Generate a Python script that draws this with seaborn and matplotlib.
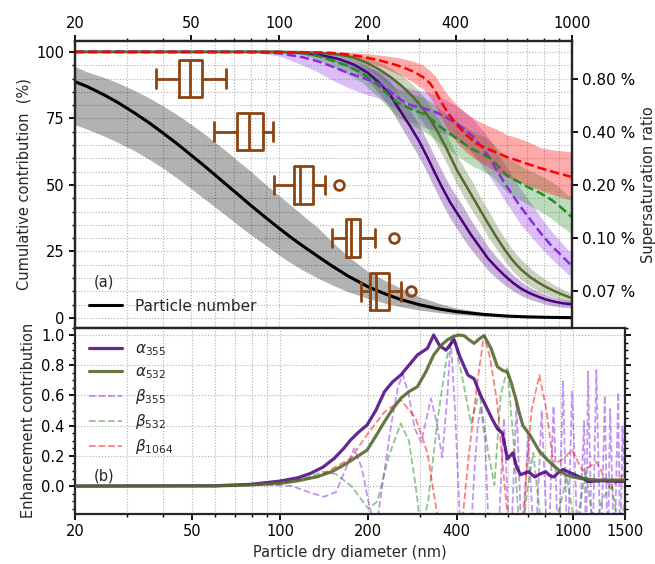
import numpy as np
import pandas as pd
import matplotlib
matplotlib.use('Agg')
import matplotlib.pyplot as plt
import seaborn as sns
from matplotlib.ticker import FixedLocator, FixedFormatter, LogLocator, NullFormatter, MultipleLocator, FormatStrFormatter

# ---------------- data: panel (a) ----------------
# particle number cumulative contribution (%)
d_num = [20, 22, 25, 28, 32, 36, 40, 45, 50, 55, 60, 66, 72, 80, 90, 100, 110, 120, 135, 150, 170, 200, 230, 260, 300, 350, 400, 500, 600, 700, 850, 1000]
num_mid = [88.8, 87.0, 84.0, 81.0, 77.0, 73.2, 69.5, 65.2, 61.1, 57.4, 53.9, 50.0, 46.5, 42.2, 37.6, 33.6, 30.1, 27.1, 23.2, 19.8, 16.0, 11.8, 9.0, 6.9, 5.0, 3.4, 2.4, 1.3, 0.7, 0.4, 0.2, 0.1]
num_hi = [94.5, 92.5, 90.5, 88.4, 85.5, 82.6, 79.7, 76.2, 72.7, 69.4, 66.2, 62.6, 59.1, 55.0, 50.0, 45.9, 42.1, 38.6, 34.0, 29.0, 23.5, 17.5, 14.0, 11.2, 8.0, 5.5, 3.8, 2.0, 1.1, 0.6, 0.3, 0.15]
num_lo = [72.6, 71.0, 68.5, 66.0, 62.8, 59.5, 56.3, 52.3, 48.5, 45.0, 41.8, 38.3, 35.0, 31.2, 27.2, 23.5, 20.5, 18.0, 15.0, 12.6, 10.0, 7.4, 5.5, 4.2, 3.0, 2.0, 1.3, 0.6, 0.3, 0.15, 0.05, 0.0]

d_a355 = [20, 100, 120, 140, 160, 180, 200, 220, 240, 260, 280, 300, 320, 340, 360, 383, 404, 424, 450, 483, 515, 551, 590, 628, 670, 716, 770, 816, 870, 932, 1000]
a355_mid = [100, 100, 99.6, 98.7, 97.3, 95.2, 92.2, 88.3, 83.5, 77.5, 72, 66.5, 60.5, 54.5, 49, 43.5, 39.5, 36, 31.5, 26.8, 22.5, 19.0, 15.8, 13.2, 11, 9.3, 7.9, 6.9, 6.1, 5.5, 5.1]
a355_lo = [100, 100, 99.3, 97.9, 95.8, 92.9, 89.2, 84.3, 78.5, 72, 66, 60.5, 54.5, 48.5, 43, 37.5, 33.5, 30, 26, 21.8, 18, 15, 12.3, 10.2, 8.4, 7, 5.9, 5.1, 4.5, 4, 3.8]
a355_hi = [100, 100, 99.9, 99.5, 98.8, 97.5, 95.2, 92.3, 88.5, 83, 78, 72.5, 66.5, 60.5, 55, 49.5, 45.5, 42, 37, 31.8, 27, 23, 19.3, 16.2, 13.6, 11.6, 9.9, 8.7, 7.7, 7, 6.4]

d_a532 = [20, 100, 120, 140, 160, 180, 200, 220, 240, 260, 287, 310, 327, 350, 373, 404, 430, 460, 490, 520, 551, 590, 628, 670, 716, 770, 816, 870, 932, 1000]
a532_mid = [100, 100, 99.9, 99.6, 99.0, 97.8, 95.8, 93.3, 90.5, 87.5, 83, 78.5, 74.8, 69.3, 63.5, 55.6, 50.5, 45, 39.8, 35, 30.5, 25.5, 21.5, 18.2, 15.5, 13.2, 11.6, 10.1, 8.7, 7.4]
a532_lo = [100, 100, 99.7, 99.2, 98.2, 96.5, 93.8, 90.5, 87, 83.5, 78.5, 73.5, 69.8, 63.8, 58, 50.1, 45, 39.5, 34.8, 30, 26, 21.3, 17.5, 14.4, 12, 10.2, 8.9, 7.8, 6.7, 5.7]
a532_hi = [100, 100, 100, 100, 99.8, 99.1, 97.8, 96.1, 94, 91.5, 87.5, 83.5, 79.8, 74.8, 69, 61.1, 56, 50.5, 44.8, 40, 35, 29.7, 25.5, 22, 19, 16.2, 14.3, 12.4, 10.7, 9.1]

d_b355 = [20, 80, 100, 120, 135, 149, 170, 192, 220, 240, 260, 280, 310, 340, 370, 404, 430, 460, 490, 520, 550, 590, 628, 670, 720, 780, 840, 900, 1000]
b355_mid = [100, 100, 99.5, 98, 96.5, 94.8, 92.3, 90.3, 88, 85, 82, 80, 78.8, 77.5, 75.5, 73, 70.8, 68, 64.5, 60.5, 56, 50.5, 46, 41.5, 37, 32, 27.8, 24.5, 19.5]
b355_lo = [100, 100, 98.5, 95, 92.5, 89.8, 86.8, 84.5, 82.5, 80, 77, 74, 71.8, 70.5, 69, 67, 64.8, 61.5, 57.5, 53.5, 49.5, 44, 39.5, 35, 31, 26.5, 22.8, 19.7, 15]
b355_hi = [100, 100, 100, 99.5, 99, 97.8, 95.8, 94.6, 93, 90, 87.5, 86, 85.3, 84, 82, 79.5, 77.3, 74.5, 71, 67.5, 63, 57.5, 53, 48.3, 43.5, 38, 33.3, 29.5, 24]

d_b532 = [20, 100, 120, 135, 149, 170, 192, 220, 250, 270, 287, 310, 327, 354, 380, 404, 430, 459, 490, 527, 560, 596, 640, 684, 730, 780, 830, 883, 940, 1000]
b532_mid = [100, 100, 99.5, 98.5, 97, 94.8, 92, 87, 81.3, 79.5, 78.2, 76.8, 75.1, 71.9, 69.5, 67.5, 65.3, 63.2, 61.8, 60, 57, 53.8, 51.8, 50, 48.4, 46.9, 45.2, 43.1, 40.5, 37.8]
b532_lo = [100, 100, 99, 97, 95, 91.8, 88.5, 82.5, 76, 73.7, 72, 70.3, 68.5, 65.5, 63.2, 61, 59, 57, 55.5, 53.5, 50.7, 47.5, 45.3, 43.5, 41.7, 40, 38.2, 36, 33.7, 31.5]
b532_hi = [100, 100, 100, 99.5, 99, 97.3, 95.5, 91.5, 86.5, 85, 84, 83, 81.5, 78.5, 76, 74, 72, 70, 68.5, 66.5, 63.5, 60.5, 58.5, 56.5, 55, 53.5, 52, 50, 47.5, 45]

d_b1064 = [20, 120, 149, 170, 192, 220, 250, 270, 287, 310, 327, 340, 354, 375, 404, 435, 470, 510, 551, 596, 650, 700, 780, 880, 1000]
b1064_mid = [100, 99.9, 99.7, 99.1, 98.2, 96.8, 95.1, 93.8, 92.6, 90.5, 88.2, 85.5, 82, 77.3, 72.6, 68.8, 65.7, 63.7, 62.2, 60.6, 59.2, 58, 56.3, 54.6, 53]
b1064_lo = [100, 99.8, 99.4, 98.4, 97, 94.7, 92, 90.3, 88.5, 86, 83, 80, 76, 71, 66, 62.3, 59.5, 57.2, 55, 53, 51.5, 50, 48, 46, 44.2]
b1064_hi = [100, 100, 100, 99.8, 99.5, 98.8, 98, 97.2, 96.5, 95, 93, 91, 88, 84, 80, 77, 74.5, 72.5, 71, 69, 67.7, 66.5, 64, 63, 62.5]

# box plots of activation diameter per supersaturation
ss_labels = ['0.80 %', '0.40 %', '0.20 %', '0.10 %', '0.07 %']
ss_pos = [90, 70, 50, 30, 10]
box_whislo = [37.8, 59.8, 95.9, 151.5, 190]
box_q1 = [45.5, 71.5, 111.7, 169.2, 204]
box_med = [49.5, 78.7, 117.6, 176, 214]
box_q3 = [54.5, 87.6, 130.4, 188.9, 236]
box_whishi = [65.7, 94.9, 143.0, 212, 261]
box_fliers = [[], [], [160], [246], [281]]

# ---------------- data: panel (b) ----------------
d_a355b = [20, 60, 79, 100, 115, 127, 140, 153, 165, 174, 186, 198, 212, 227, 242, 258, 275, 294, 318, 334, 350, 368, 392, 410, 437, 459, 483, 509, 530, 551, 573, 596, 622, 640, 660, 702, 740, 770, 805, 830, 856, 890, 922, 970, 1026, 1131, 1250, 1500]
a355b = [0, 0.002, 0.011, 0.033, 0.055, 0.084, 0.125, 0.183, 0.25, 0.305, 0.36, 0.404, 0.5, 0.625, 0.69, 0.735, 0.8, 0.868, 0.912, 1.0, 0.93, 0.90, 0.97, 0.86, 0.735, 0.71, 0.6, 0.51, 0.44, 0.38, 0.35, 0.18, 0.22, 0.13, 0.075, 0.095, 0.06, 0.08, 0.095, 0.07, 0.06, 0.09, 0.11, 0.09, 0.07, 0.03, 0.035, 0.03]

d_a532b = [20, 60, 79, 100, 115, 134, 150, 165, 180, 198, 212, 227, 242, 258, 275, 294, 315, 334, 355, 373, 390, 404, 424, 440, 459, 478, 496, 524, 551, 575, 596, 615, 636, 655, 673, 710, 740, 766, 810, 850, 900, 944, 1000, 1055, 1198, 1500]
a532b = [0, 0.001, 0.007, 0.018, 0.035, 0.062, 0.095, 0.139, 0.185, 0.238, 0.33, 0.426, 0.51, 0.581, 0.625, 0.658, 0.76, 0.868, 0.934, 0.97, 0.99, 1.0, 0.996, 0.97, 0.945, 0.975, 0.996, 0.912, 0.79, 0.765, 0.757, 0.68, 0.58, 0.48, 0.40, 0.34, 0.28, 0.23, 0.18, 0.14, 0.1, 0.073, 0.06, 0.05, 0.04, 0.04]

d_b355b = [20, 60, 90, 110, 125, 141, 155, 168, 179, 190, 200, 212, 225, 240, 252, 262, 275, 288, 303, 316, 327, 342, 357, 372, 382, 395, 410, 425, 445, 460, 472, 483, 500, 520, 550, 580, 610, 640, 670, 700, 740, 780, 820, 856, 890, 922, 955, 990, 1040, 1088, 1105, 1122, 1160, 1198, 1240, 1280, 1310, 1335, 1380, 1422, 1445, 1470, 1500]
b355b = [0, 0, 0.01, 0.0, -0.04, -0.071, -0.04, 0.12, 0.25, 0.12, -0.1, -0.3, 0.05, 0.42, 0.65, 0.74, 0.6, 0.38, 0.29, 0.45, 0.58, 0.42, 0.19, 0.6, 0.98, 0.5, -0.2, -0.5, -0.4, 0.1, 0.4, 0.53, 0.3, -0.5, -0.5, 0.45, -0.5, 0.55, -0.5, 0.35, -0.5, 0.5, -0.5, 0.53, -0.5, 0.70, -0.5, 0.625, -0.5, 0.43, -0.5, 0.757, -0.5, 0.768, -0.5, 0.60, -0.5, 0.51, -0.5, 0.62, -0.5, 0.4, 0.0]

d_b532b = [20, 60, 100, 125, 140, 155, 175, 200, 215, 235, 258, 275, 290, 303, 320, 345, 370, 390, 420, 448, 478, 510, 538, 565, 596, 625, 660, 700, 730, 790, 860, 950, 1020, 1100, 1180, 1250, 1350, 1430, 1500]
b532b = [0, 0.001, 0.018, 0.06, 0.095, 0.08, 0.0, -0.15, -0.1, 0.2, 0.415, 0.3, 0.0, -0.3, -0.1, 0.45, 0.85, 1.0, 0.7, 0.415, 0.625, 0.25, 0.007, 0.6, 0.78, 0.3, -0.4, 0.0, 0.22, -0.4, -0.3, 0.06, -0.3, 0.1, -0.3, -0.1, 0.02, -0.3, -0.1]

d_b1064b = [20, 60, 100, 134, 174, 198, 227, 258, 290, 318, 344, 380, 415, 440, 470, 496, 520, 550, 580, 604, 640, 680, 720, 766, 810, 856, 920, 990, 1075, 1198, 1340, 1430, 1500]
b1064b = [0, 0.001, 0.018, 0.06, 0.183, 0.34, 0.49, 0.57, 0.45, 0.22, -0.2, -0.6, -0.3, 0.2, 0.68, 1.0, 0.85, 0.55, 0.05, -0.3, -0.6, -0.1, 0.5, 0.735, 0.5, 0.14, 0.18, 0.238, 0.1, 0.16, -0.02, 0.05, 0.08]

top_ticks = [20, 50, 100, 200, 400, 1000]
bot_ticks = [20, 50, 100, 200, 400, 1000, 1500]

# ---------------- style ----------------
sns.set_style('ticks')
plt.rcParams['font.family'] = ['DejaVu Sans']
plt.rcParams['font.size'] = 10.5
plt.rcParams['axes.linewidth'] = 1.6
for ax_ in ('xtick', 'ytick'):
    plt.rcParams[f'{ax_}.major.width'] = 1.3
    plt.rcParams[f'{ax_}.minor.width'] = 1.0
    plt.rcParams[f'{ax_}.major.size'] = 4
    plt.rcParams[f'{ax_}.minor.size'] = 2.2
    plt.rcParams[f'{ax_}.labelsize'] = 10.5
    plt.rcParams[f'{ax_}.color'] = 'black'

C_A355 = '#4B0082'
C_A532 = '#556B2F'
C_B355 = '#8A2BE2'
C_B532 = '#228B22'
C_B1064 = '#FF0000'
BROWN = '#8B4513'
GRID = dict(ls=':', color='#b0b0b0', lw=0.8)

fig = plt.figure(figsize=(6.55, 5.64), dpi=100)
W, H = 655, 564
ax1 = fig.add_axes([75 / W, (H - 327.5) / H, (572 - 75) / W, (327.5 - 41) / H])
ax2 = fig.add_axes([75 / W, (H - 514) / H, (625 - 75) / W, (514 - 327.5) / H])

# ---------------- panel (a) ----------------
ax1.set_xscale('log')
ax1.set_xlim(20, 1000)
ax1.set_ylim(-3.6, 104.1)
ax1.set_axisbelow(True)
ax1.grid(True, which='both', axis='both', **GRID)

ax1.fill_between(d_num, num_lo, num_hi, color='black', alpha=0.3, lw=0, zorder=2)
sns.lineplot(x=d_num, y=num_mid, ax=ax1, color='black', lw=2.2, legend=False, zorder=3)

bands = [
    (d_a355, a355_lo, a355_hi, C_A355, 0.3),
    (d_a532, a532_lo, a532_hi, C_A532, 0.3),
    (d_b355, b355_lo, b355_hi, C_B355, 0.3),
    (d_b532, b532_lo, b532_hi, C_B532, 0.3),
    (d_b1064, b1064_lo, b1064_hi, C_B1064, 0.33),
]
for d, lo, hi, c, a in bands:
    ax1.fill_between(d, lo, hi, color=c, alpha=a, lw=0, zorder=2)

sns.lineplot(x=d_a355, y=a355_mid, ax=ax1, color=C_A355, lw=1.8, legend=False, zorder=4)
sns.lineplot(x=d_a532, y=a532_mid, ax=ax1, color=C_A532, lw=1.8, legend=False, zorder=4)
sns.lineplot(x=d_b355, y=b355_mid, ax=ax1, color=C_B355, lw=1.8, linestyle='--', legend=False, zorder=4)
sns.lineplot(x=d_b532, y=b532_mid, ax=ax1, color=C_B532, lw=1.8, linestyle='--', legend=False, zorder=4)
sns.lineplot(x=d_b1064, y=b1064_mid, ax=ax1, color=C_B1064, lw=1.8, linestyle='--', legend=False, zorder=5)

stats = []
for i in range(len(ss_pos)):
    stats.append(dict(med=box_med[i], q1=box_q1[i], q3=box_q3[i],
                      whislo=box_whislo[i], whishi=box_whishi[i],
                      fliers=np.array(box_fliers[i], dtype=float)))
bp_kw = dict(positions=ss_pos, widths=14, manage_ticks=False, showfliers=True,
             boxprops=dict(color=BROWN, lw=2), whiskerprops=dict(color=BROWN, lw=2),
             capprops=dict(color=BROWN, lw=2), medianprops=dict(color=BROWN, lw=2),
             flierprops=dict(marker='o', markerfacecolor='none', markeredgecolor=BROWN,
                             markersize=7, markeredgewidth=2), zorder=6)
try:
    ax1.bxp(stats, orientation='horizontal', **bp_kw)
except TypeError:
    ax1.bxp(stats, vert=False, **bp_kw)

ax1.xaxis.set_major_locator(FixedLocator(top_ticks))
ax1.xaxis.set_major_formatter(FixedFormatter([str(t) for t in top_ticks]))
ax1.xaxis.set_minor_locator(LogLocator(base=10, subs=np.arange(2, 10)))
ax1.xaxis.set_minor_formatter(NullFormatter())
ax1.tick_params(axis='x', which='both', top=True, labeltop=True, bottom=False, labelbottom=False, direction='out')
ax1.yaxis.set_major_locator(FixedLocator([0, 25, 50, 75, 100]))
ax1.yaxis.set_minor_locator(MultipleLocator(5))
ax1.tick_params(axis='y', which='both', left=True, direction='out')
ax1.set_ylabel('Cumulative contribution  (%)', fontsize=10.5)
ax1.set_xlabel('')
ax1.text(23.2, 10.5, '(a)', fontsize=10.5, ha='left', va='bottom')
ax1.legend(handles=[ax1.get_lines()[0]], labels=['Particle number'], loc='lower left', frameon=False,
           fontsize=11, handlelength=2.2, borderaxespad=0.5)

ax1r = ax1.twinx()
ax1r.set_ylim(ax1.get_ylim())
ax1r.yaxis.set_major_locator(FixedLocator(ss_pos))
ax1r.yaxis.set_major_formatter(FixedFormatter(ss_labels))
ax1r.yaxis.set_minor_locator(FixedLocator([]))
ax1r.tick_params(axis='y', which='both', right=True, direction='out', labelsize=11)
ax1r.set_ylabel('Supersaturation ratio', fontsize=10.5)
ax1r.grid(False)

# ---------------- panel (b) ----------------
ax2.set_xscale('log')
ax2.set_xlim(20, 1500)
ax2.set_ylim(-0.185, 1.05)
ax2.set_axisbelow(True)
ax2.grid(True, which='both', axis='x', **GRID)
ax2.grid(True, which='major', axis='y', **GRID)

sns.lineplot(x=d_b355b, y=b355b, ax=ax2, color=C_B355, alpha=0.5, lw=1.3, linestyle='--', legend=False, zorder=2)
sns.lineplot(x=d_b532b, y=b532b, ax=ax2, color=C_B532, alpha=0.5, lw=1.3, linestyle='--', legend=False, zorder=2)
sns.lineplot(x=d_b1064b, y=b1064b, ax=ax2, color=C_B1064, alpha=0.5, lw=1.3, linestyle='--', legend=False, zorder=2)
sns.lineplot(x=d_a355b, y=a355b, ax=ax2, color=C_A355, alpha=0.85, lw=2.3, legend=False, zorder=3)
sns.lineplot(x=d_a532b, y=a532b, ax=ax2, color=C_A532, alpha=0.9, lw=2.3, legend=False, zorder=3)

lines = ax2.get_lines()
h = [lines[3], lines[4], lines[0], lines[1], lines[2]]
lab = [r'$\alpha_{355}$', r'$\alpha_{532}$', r'$\beta_{355}$', r'$\beta_{532}$', r'$\beta_{1064}$']
ax2.legend(h, lab, loc='upper left', frameon=False, fontsize=11, handlelength=2.2,
           labelspacing=0.4, borderaxespad=0.5)

ax2.xaxis.set_major_locator(FixedLocator(bot_ticks))
ax2.xaxis.set_major_formatter(FixedFormatter([str(t) for t in bot_ticks]))
ax2.xaxis.set_minor_locator(LogLocator(base=10, subs=np.arange(2, 10)))
ax2.xaxis.set_minor_formatter(NullFormatter())
ax2.yaxis.set_major_locator(MultipleLocator(0.2))
ax2.yaxis.set_minor_locator(MultipleLocator(0.05))
ax2.yaxis.set_major_formatter(FormatStrFormatter('%.1f'))
ax2.tick_params(axis='both', which='both', direction='out', right=True, bottom=True, left=True)
ax2.set_xlabel('Particle dry diameter (nm)', fontsize=10.5)
ax2.set_ylabel('Enhancement contribution', fontsize=10.5)
ax2.text(23.2, 0.02, '(b)', fontsize=10.5, ha='left', va='bottom')

fig.savefig('out.png', dpi=100)
